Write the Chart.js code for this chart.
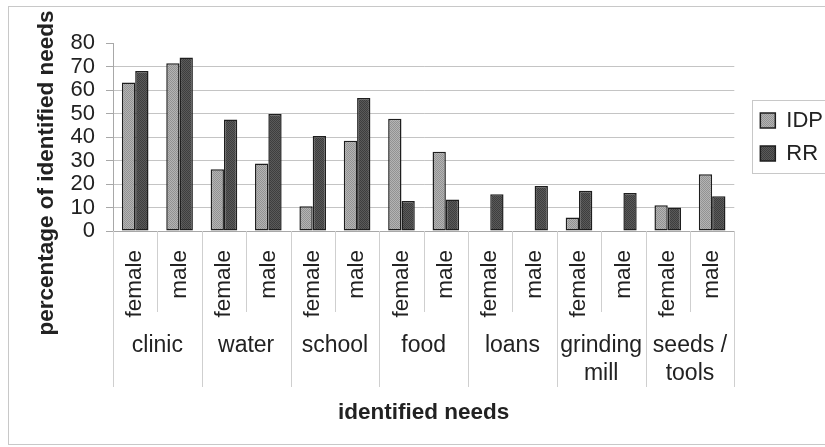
<!DOCTYPE html>
<html>
<head>
<meta charset="utf-8">
<script src="https://cdn.jsdelivr.net/npm/chart.js@4/dist/chart.umd.min.js"></script>
<style>
  html, body { margin: 0; padding: 0; background: #fff; }
  #wrap { position: relative; width: 825px; height: 447px; }
</style>
</head>
<body>
<div id="wrap"><canvas id="needs"></canvas></div>
<script>
// data
var groups = [['clinic'], ['water'], ['school'], ['food'], ['loans'], ['grinding', 'mill'], ['seeds /', 'tools']];
var sexes = ['female', 'male'];
var idpValues = [63.2, 71.4, 26.3, 28.7, 10.5, 38.4, 47.8, 33.7, 0, 0, 5.7, 0, 11.0, 24.2];
var rrValues = [68.1, 73.8, 47.5, 49.8, 40.4, 56.6, 12.8, 13.4, 15.6, 19.2, 17.1, 16.2, 10.0, 14.8];
var yMax = 80;
var yStep = 10;

var FONT = "'Liberation Sans', Arial, sans-serif";
var TEXT = '#222';

var labels = [];
groups.forEach(() => sexes.forEach(s => labels.push(s)));

// speckled fills like the old spreadsheet bars
var makePattern = (light, dark) => {
  var c = document.createElement('canvas');
  c.width = 2; c.height = 2;
  var g = c.getContext('2d');
  g.fillStyle = light; g.fillRect(0, 0, 2, 2);
  g.fillStyle = dark; g.fillRect(0, 0, 1, 1); g.fillRect(1, 1, 1, 1);
  return g.createPattern(c, 'repeat');
};
var idpFill = makePattern('#b4b4b4', '#929292');
var rrFill = makePattern('#5a5a5a', '#3e3e3e');

var decorations = {
  id: 'decorations',
  beforeDraw(chart) {
    var ctx = chart.ctx;
    ctx.save();
    ctx.strokeStyle = '#c8c8c8';
    ctx.lineWidth = 1;
    ctx.strokeRect(8.5, 6.5, 840, 438);
    ctx.restore();
  },
  afterDraw(chart) {
    var ctx = chart.ctx;
    var x = chart.scales.x;
    var half = (x.getPixelForValue(1) - x.getPixelForValue(0)) / 2;
    var bottom = chart.chartArea.bottom;
    ctx.save();

    /** separators between the categories and the groups */
    ctx.strokeStyle = '#cfcfcf';
    ctx.lineWidth = 1;
    for (var i = 0; i <= labels.length; i++) {
      var px = Math.round(x.getPixelForValue(i) - half) + 0.5;
      ctx.beginPath();
      ctx.moveTo(px, bottom);
      ctx.lineTo(px, i % 2 === 0 ? 387 : 312);
      ctx.stroke();
    }

    // group names
    ctx.fillStyle = TEXT;
    ctx.font = '23px ' + FONT;
    ctx.textAlign = 'center';
    ctx.textBaseline = 'middle';
    groups.forEach((lines, g) => {
      var cx = (x.getPixelForValue(2 * g) + x.getPixelForValue(2 * g + 1)) / 2;
      lines.forEach((line, k) => ctx.fillText(line, cx, 346 + k * 28));
    });

    // y title, centred on the whole chart height
    ctx.font = 'bold 22.5px ' + FONT;
    ctx.translate(47, 173);
    ctx.rotate(-Math.PI / 2);
    ctx.fillText('percentage of identified needs', 0, 0);
    ctx.setTransform(1, 0, 0, 1, 0, 0);

    // legend frame
    var boxes = chart.legend.legendHitBoxes;
    if (boxes && boxes.length) {
      var l = Math.min(...boxes.map(b => b.left)) - 8;
      var t = Math.min(...boxes.map(b => b.top)) - 10;
      var b2 = Math.max(...boxes.map(b => b.top + b.height)) + 8;
      ctx.strokeStyle = '#c8c8c8';
      ctx.strokeRect(Math.round(l) + 0.5, Math.round(t) + 0.5, 120, Math.round(b2 - t));
    }
    ctx.restore();
  }
};

new Chart(document.getElementById('needs'), {
  type: 'bar',
  data: {
    labels: labels,
    datasets: [
      { label: 'IDP', data: idpValues, backgroundColor: idpFill },
      { label: 'RR', data: rrValues, backgroundColor: rrFill }
    ]
  },
  options: {
    responsive: true,
    maintainAspectRatio: false,
    animation: false,
    devicePixelRatio: 1,
    layout: { padding: { top: 43, left: 0, right: -8, bottom: 0 } },
    datasets: {
      bar: {
        categoryPercentage: 0.6,
        barPercentage: 1,
        borderColor: '#1e1e1e',
        borderWidth: ctx => (ctx.raw ? 1.5 : 0),
        borderSkipped: false
      }
    },
    plugins: {
      legend: {
        position: 'right',
        fullSize: false,
        labels: {
          boxWidth: 15,
          boxHeight: 15,
          padding: 11,
          color: TEXT,
          font: { family: FONT, size: 22 }
        }
      },
      tooltip: { enabled: false }
    },
    scales: {
      x: {
        grid: { display: false },
        border: { display: true, color: '#a8a8a8' },
        ticks: {
          autoSkip: false,
          minRotation: 90,
          maxRotation: 90,
          padding: 11,
          color: TEXT,
          font: { family: FONT, size: 22.5 }
        },
        title: {
          display: true,
          text: 'identified needs',
          color: TEXT,
          font: { family: FONT, size: 22.5, weight: 'bold' },
          padding: { top: 0, bottom: 21 }
        },
        afterFit: scale => { scale.height = 216; }
      },
      y: {
        min: 0,
        max: yMax,
        ticks: {
          stepSize: yStep,
          autoSkip: false,
          padding: 11,
          color: TEXT,
          font: { family: FONT, size: 22, lineHeight: 1 }
        },
        grid: {
          color: ctx => (ctx.tick && ctx.tick.value === yMax ? 'rgba(0,0,0,0)' : '#c4c4c4'),
          tickColor: '#a8a8a8',
          tickLength: 7
        },
        border: { display: true, color: '#a8a8a8' },
        afterFit: scale => { scale.width = 113; }
      },
      spacer: {
        position: 'right',
        display: true,
        ticks: { display: false },
        grid: { display: false, drawTicks: false },
        border: { display: false },
        afterFit: scale => { scale.width = 15; }
      }
    }
  },
  plugins: [decorations]
});
</script>
</body>
</html>
